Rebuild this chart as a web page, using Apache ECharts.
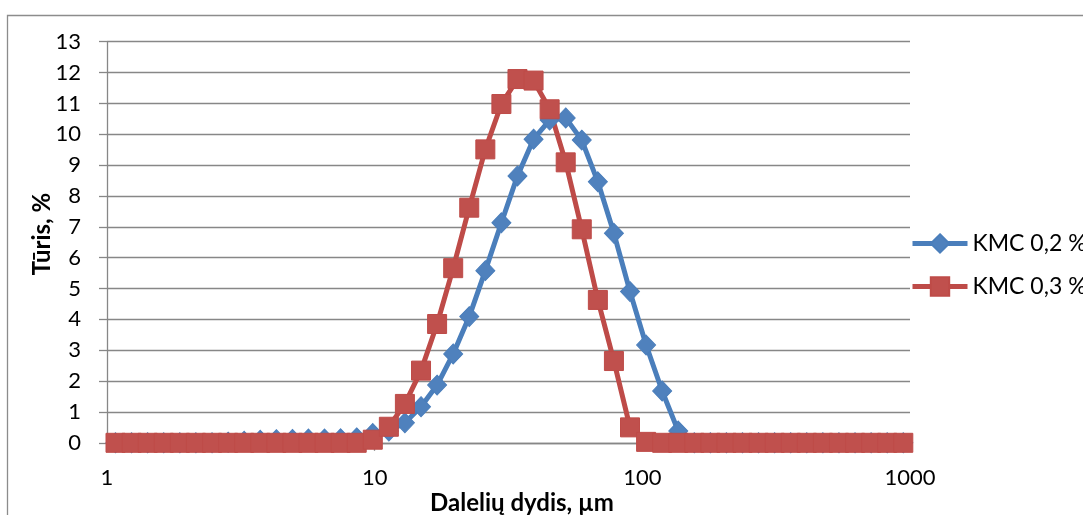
<!DOCTYPE html>
<html><head><meta charset="utf-8">
<script src="https://cdn.jsdelivr.net/npm/echarts@6/dist/echarts.min.js"></script>
<style>html,body{margin:0;padding:0;background:#fff;}#c{width:1083px;height:515px;}</style>
</head><body><div id="c"></div>
<script>
// Particle size bins (µm)
const particleSizes = [1.076, 1.236, 1.419, 1.630, 1.872, 2.149, 2.469, 2.835, 3.255, 3.738,
  4.292, 4.929, 5.658, 6.498, 7.462, 8.568, 9.840, 11.30, 12.97, 14.90,
  17.11, 19.65, 22.56, 25.91, 29.75, 34.16, 39.23, 45.05, 51.73, 59.39,
  68.21, 78.32, 89.94, 103.3, 118.6, 136.2, 156.4, 179.6, 206.2, 236.8,
  271.9, 312.2, 358.5, 411.7, 472.8, 542.9, 623.4, 715.9, 822.1, 944.0];
// Volume, % — KMC 0,2 %
const kmc02 = [0, 0, 0, 0, 0, 0, 0, 0.02, 0.05, 0.08,
  0.10, 0.11, 0.12, 0.12, 0.13, 0.16, 0.30, 0.38, 0.65, 1.17,
  1.87, 2.88, 4.09, 5.58, 7.13, 8.65, 9.84, 10.46, 10.53, 9.81,
  8.46, 6.79, 4.90, 3.17, 1.68, 0.38, 0, 0, 0, 0,
  0, 0, 0, 0, 0, 0, 0, 0, 0, 0];
// Volume, % — KMC 0,3 %
const kmc03 = [0, 0, 0, 0, 0, 0, 0, 0, 0, 0,
  0, 0, 0, 0, 0, 0, 0.10, 0.52, 1.26, 2.34,
  3.85, 5.66, 7.62, 9.51, 10.98, 11.79, 11.74, 10.81, 9.09, 6.92,
  4.63, 2.65, 0.50, 0.03, 0, 0, 0, 0, 0, 0,
  0, 0, 0, 0, 0, 0, 0, 0, 0, 0];
const seriesNames = ['KMC 0,2 %', 'KMC 0,3 %'];
const xTicks = [1, 10, 100, 1000];
const yTicks = [0, 1, 2, 3, 4, 5, 6, 7, 8, 9, 10, 11, 12, 13];
const xTitle = 'Dalelių dydis, µm';
const yTitle = 'Tūris, %';

const FONT = 'Lato, "Open Sans", sans-serif';
const GRID = '#878787';
const chart = echarts.init(document.getElementById('c'), null, {renderer: 'canvas'});
chart.setOption({
  animation: false,
  backgroundColor: '#fff',
  graphic: [{
    type: 'rect', z: -10, silent: true,
    shape: {x: 7.5, y: 15.5, width: 1100, height: 600},
    style: {fill: 'none', stroke: '#8c8c8c', lineWidth: 1.3}
  }, {
    type: 'text', silent: true, x: 522, y: 503,
    style: {text: xTitle, fontFamily: FONT, fontSize: 24, fontWeight: 'bold', fill: '#000',
      align: 'center', verticalAlign: 'middle'}
  }, {
    type: 'text', silent: true, x: 42, y: 234, rotation: Math.PI / 2,
    style: {text: yTitle, fontFamily: FONT, fontSize: 24, fontWeight: 'bold', fill: '#000',
      align: 'center', verticalAlign: 'middle'}
  }],
  grid: {left: 107, right: 173, top: 41.7, bottom: 72.2, containLabel: false, outerBoundsMode: 'none'},
  legend: {
    orient: 'vertical', left: 910, top: 232, padding: 0,
    itemWidth: 55, itemHeight: 23, itemGap: 20,
    lineStyle: {width: 5},
    textStyle: {fontFamily: FONT, fontSize: 23, color: '#000', lineHeight: 23},
    data: seriesNames
  },
  xAxis: {
    type: 'log', logBase: 10, min: xTicks[0], max: xTicks[xTicks.length - 1],
    axisLine: {show: true, lineStyle: {color: GRID, width: 1.3}},
    axisTick: {show: true, length: 8, lineStyle: {color: GRID, width: 1.3}},
    minorTick: {show: false},
    splitLine: {show: false},
    axisLabel: {fontFamily: FONT, fontSize: 22, color: '#000', margin: 24,
      formatter: v => String(Math.round(v))}
  },
  yAxis: {
    type: 'value', min: yTicks[0], max: yTicks[yTicks.length - 1], interval: 1,
    axisLine: {show: true, lineStyle: {color: GRID, width: 1.3}},
    axisTick: {show: true, length: 8, lineStyle: {color: GRID, width: 1.3}},
    splitLine: {show: true, lineStyle: {color: GRID, width: 1.3}},
    axisLabel: {fontFamily: FONT, fontSize: 22, color: '#000', margin: 26}
  },
  series: [{
    name: seriesNames[0], type: 'line',
    data: particleSizes.map((s, i) => [s, kmc02[i]]),
    symbol: 'diamond', symbolSize: [19, 20],
    lineStyle: {color: '#4A7EBB', width: 5},
    itemStyle: {color: '#4F81BD', borderColor: '#4A7EBB', borderWidth: 1},
    emphasis: {disabled: true}
  }, {
    name: seriesNames[1], type: 'line',
    data: particleSizes.map((s, i) => [s, kmc03[i]]),
    symbol: 'rect', symbolSize: 19,
    lineStyle: {color: '#BE4B48', width: 5},
    itemStyle: {color: '#C0504D', borderColor: '#BE4B48', borderWidth: 1},
    emphasis: {disabled: true}
  }]
});
</script>
</body></html>
